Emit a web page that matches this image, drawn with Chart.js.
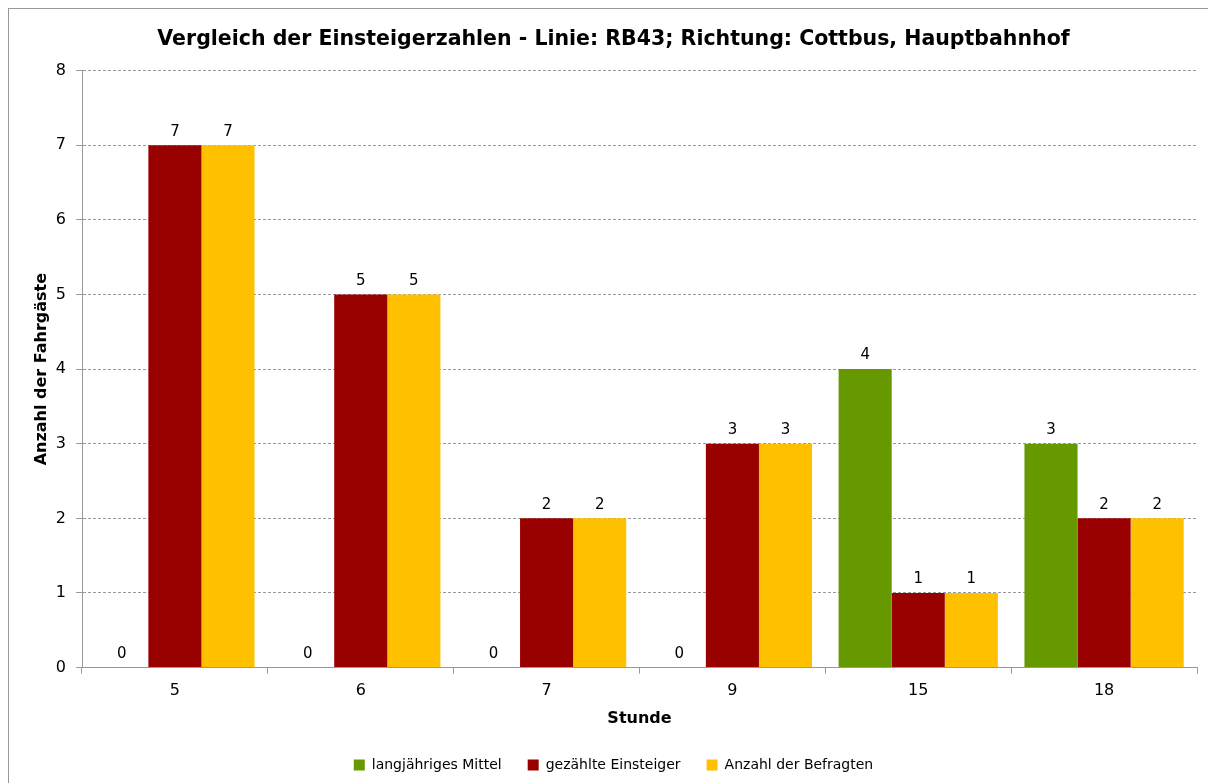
<!DOCTYPE html>
<html>
<head>
<meta charset="utf-8">
<script src="https://cdn.jsdelivr.net/npm/chart.js@4/dist/chart.umd.min.js"></script>
<style>
  html, body { margin: 0; padding: 0; overflow: hidden; background: #fff; }
  #frame { position: absolute; left: 8px; top: 8px; width: 1400px; height: 1000px; border: 1px solid #999; pointer-events: none; }
  #wrap { position: absolute; left: 0; top: 0; width: 1208px; height: 783px; }
</style>
</head>
<body>
<div id="wrap"><canvas id="chart" width="1208" height="783"></canvas></div>
<div id="frame"></div>
<script>
var stunden = ['5', '6', '7', '9', '15', '18'];
var mittel = [0, 0, 0, 0, 4, 3];
var gezaehlt = [7, 5, 2, 3, 1, 2];
var befragt = [7, 5, 2, 3, 1, 2];
var yTicks = [0, 1, 2, 3, 4, 5, 6, 7, 8];

var fontFam = '"DejaVu Sans", Verdana, sans-serif';

// Werte ueber die Balken schreiben
var barLabels = {
    id: 'barLabels',
    afterDatasetsDraw: function(chart) {
        var ctx = chart.ctx;
        ctx.save();
        ctx.font = '15px ' + fontFam;
        ctx.fillStyle = '#000';
        ctx.textAlign = 'center';
        ctx.textBaseline = 'bottom';
        chart.data.datasets.forEach(function(ds, i) {
            var meta = chart.getDatasetMeta(i);
            meta.data.forEach(function(bar, j) {
                ctx.fillText(ds.data[j], bar.x, bar.y - 6);
            });
        });
        ctx.restore();
    }
};

var ctx = document.getElementById('chart').getContext('2d');
var myChart = new Chart(ctx, {
    type: 'bar',
    data: {
        labels: stunden,
        datasets: [
            { label: 'langjähriges Mittel', data: mittel, backgroundColor: '#669900' },
            { label: 'gezählte Einsteiger', data: gezaehlt, backgroundColor: '#990000' },
            { label: 'Anzahl der Befragten', data: befragt, backgroundColor: '#FFC000' }
        ]
    },
    options: {
        responsive: false,
        animation: false,
        events: [],
        layout: { padding: { left: 30, right: 11, top: 10, bottom: 1 } },
        datasets: {
            bar: { barPercentage: 1.0, categoryPercentage: 0.857 }
        },
        scales: {
            x: {
                offset: true,
                grid: { offset: true, drawOnChartArea: false, color: '#999', tickLength: 6 },
                border: { color: '#999' },
                ticks: { color: '#000', font: { size: 16, family: fontFam }, padding: 8 },
                title: { display: true, text: 'Stunde', color: '#000', font: { size: 16, weight: 'bold', family: fontFam }, padding: { top: 0, bottom: 4 } }
            },
            y: {
                min: 0,
                max: 8,
                afterBuildTicks: function(scale) {
                    scale.ticks = yTicks.map(function(v) { return { value: v }; });
                },
                afterFit: function(scale) { scale.width = 52; },
                grid: { color: '#999', tickLength: 6, tickBorderDash: [], lineWidth: 1 },
                border: { color: '#999', dash: [3, 2] },
                ticks: { color: '#000', font: { size: 16, family: fontFam }, padding: 10 },
                title: { display: true, text: 'Anzahl der Fahrgäste', color: '#000', font: { size: 16, weight: 'bold', family: fontFam }, padding: 2 }
            }
        },
        plugins: {
            title: {
                display: true,
                text: 'Vergleich der Einsteigerzahlen - Linie: RB43; Richtung: Cottbus, Hauptbahnhof',
                color: '#000',
                font: { size: 20.5, weight: 'bold', family: fontFam },
                padding: { top: 17, bottom: 19 }
            },
            legend: {
                position: 'bottom',
                labels: { boxWidth: 11, boxHeight: 11, color: '#000', font: { size: 14, family: fontFam }, padding: 26 }
            },
            tooltip: { enabled: false }
        }
    },
    plugins: [barLabels]
});
</script>
</body>
</html>
